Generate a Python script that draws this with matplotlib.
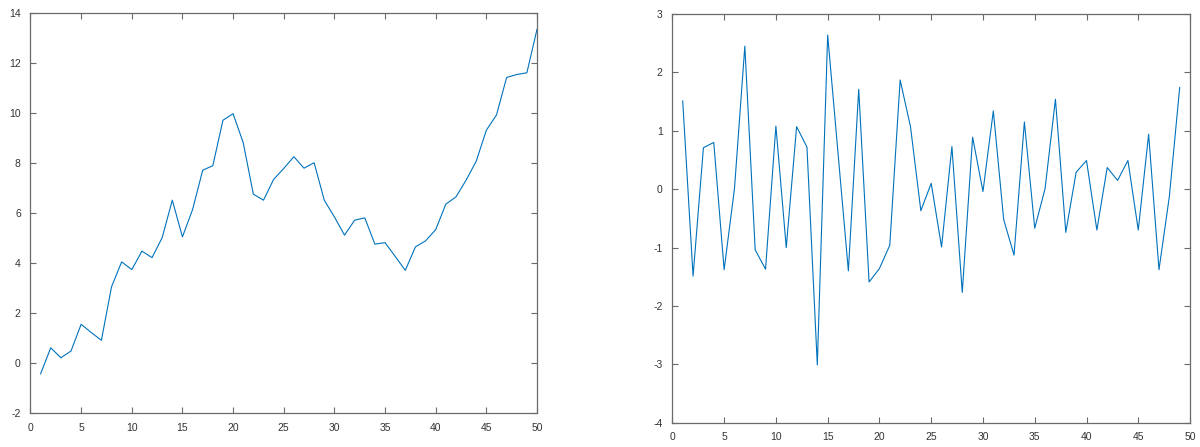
import matplotlib
matplotlib.use("Agg")
import matplotlib.pyplot as plt
import numpy as np

# left: cumulative walk, 50 points
walk = [-0.43, 0.61, 0.21, 0.48, 1.55, 1.22, 0.91, 3.05, 4.05, 3.74,
        4.48, 4.22, 5.02, 6.52, 5.05, 6.14, 7.72, 7.90, 9.72, 9.98,
        8.82, 6.76, 6.52, 7.35, 7.79, 8.26, 7.80, 8.02, 6.52, 5.85,
        5.12, 5.72, 5.81, 4.76, 4.82, 4.27, 3.71, 4.65, 4.89, 5.34,
        6.36, 6.65, 7.32, 8.08, 9.32, 9.93, 11.43, 11.55, 11.62, 13.36]

# right: step values, 49 points
steps = [1.51, -1.49, 0.71, 0.80, -1.38, 0.01, 2.45, -1.04, -1.37, 1.08,
         -1.00, 1.07, 0.72, -3.01, 2.64, 0.62, -1.40, 1.71, -1.59, -1.36,
         -0.96, 1.87, 1.07, -0.37, 0.10, -0.99, 0.73, -1.77, 0.89, -0.04,
         1.34, -0.52, -1.13, 1.15, -0.67, 0.01, 1.54, -0.74, 0.29, 0.49,
         -0.70, 0.37, 0.15, 0.49, -0.70, 0.94, -1.38, -0.13, 1.74]

line_col = "#0072BD"
axis_col = "#6a6a6a"
text_col = "#333333"

plt.rcParams["font.family"] = ["Liberation Sans", "DejaVu Sans"]
plt.rcParams["axes.unicode_minus"] = False

fig = plt.figure(figsize=(12, 4.47), dpi=100)
ax1 = fig.add_axes([0.0254, 0.0761, 0.4221, 0.8941])
ax2 = fig.add_axes([0.5603, 0.0544, 0.4314, 0.9143])


def style(ax):
    for s in ax.spines.values():
        s.set_color(axis_col)
        s.set_linewidth(0.9)
    ax.tick_params(direction="in", top=True, right=True, length=4.5,
                   width=0.8, color=axis_col, labelcolor=text_col,
                   labelsize=7.5, pad=7)


ax1.plot(np.arange(1, len(walk) + 1), walk, color=line_col, lw=0.8)
ax1.set_xlim(0, 50)
ax1.set_ylim(-2, 14)
ax1.set_xticks(np.arange(0, 51, 5))
ax1.set_yticks(np.arange(-2, 15, 2))
style(ax1)

ax2.plot(np.arange(1, len(steps) + 1), steps, color=line_col, lw=0.8)
ax2.set_xlim(0, 50)
ax2.set_ylim(-4, 3)
ax2.set_xticks(np.arange(0, 51, 5))
ax2.set_yticks(np.arange(-4, 4, 1))
style(ax2)

fig.savefig("out.png", dpi=100)
